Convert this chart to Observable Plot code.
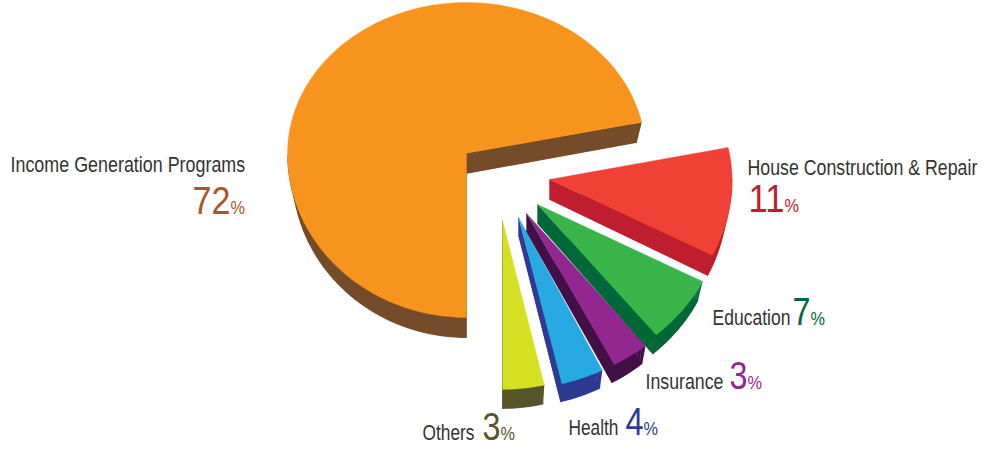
<!DOCTYPE html>
<html>
<head>
<meta charset="utf-8">
<style>html,body{margin:0;padding:0;background:#fff}svg{display:block}</style>
<script src="https://cdn.jsdelivr.net/npm/d3@7"></script>
<script src="https://cdn.jsdelivr.net/npm/@observablehq/plot@0.6"></script>
</head>
<body>
<script>
// Values, in pie order, clockwise from straight down
const names  = ["Income Generation Programs","House Construction & Repair","Education","Insurance","Health","Others"];
const shares = [72,11,7,3,4,3];
const faces  = ["#f7941e","#ef4136","#39b54a","#92278f","#27aae1","#d7df23"];
const walls  = ["#754c29","#be1e2d","#006838","#430f47","#2e3a92","#57552a"];
const inks   = ["#a4582a","#be1e2d","#006838","#92278f","#2e3a92","#57552a"];

// Drawing of the exploded tilted pie
const centre = [466,153], rx = 179, ryUp = 151, ryDown = 164;
const explodeX   = [0,83,71,60,52,36];
const explodeY   = [0,26,51,60,64,67];
const radius     = [1,1.02,1.035,1.044,1.042,1.03];
const depth      = [20,20,19,18,18,19];
const nudgeStart = [0,-1.2,-1.8,-3.6,-1.5,-2.3];
const nudgeEnd   = [-1,-1.8,-3.8,-2.8,-2.6,0];
const drawOrder  = [0,5,4,3,2,1];

// Label placement
const nameX  = [10,747,712,645,568,422], nameY = [171.5,174.5,324.5,388.5,434.5,439.5];
const valueX = [192,748,792,729,625,482], valueY = [213.5,211.5,324.5,388.5,434.5,439.5];
const pctX   = [230,784,810,747,643,500];
const nameW  = [235,230,78,78,50,52];
const valueW = [38,36,18,18,18,18];
const pctW   = 14.5;

// Sweep of each slice, laid end to end from straight down
let sweepFrom = 90;
const spans = shares.map((s,i)=>{
  const a0 = sweepFrom, a1 = a0 + s*3.6;
  sweepFrom = a1;
  return [a0+nudgeStart[i], a1+nudgeEnd[i]];
});

function outline(i){
  const ax = centre[0]+explodeX[i], ay = centre[1]+explodeY[i], r = radius[i];
  const [a0,a1] = spans[i];
  const pts = [[ax,ay]];
  const n = Math.max(8, Math.ceil((a1-a0)/2));
  for (let k=0;k<=n;k++){
    const t = (a0+(a1-a0)*k/n)*Math.PI/180, s = Math.sin(t);
    pts.push([ax+rx*r*Math.cos(t), ay+(s<0?ryUp:ryDown)*r*s]);
  }
  return pts;
}
const rows = [];
let id = 0;
const add = (pts,fill)=>{ id++; pts.forEach(p=>rows.push({x:p[0],y:p[1],z:id,fill})); };
for (const i of drawOrder){
  const top = outline(i);
  const ax = top[0][0];
  const low = top.map(p=>[ax+(p[0]-ax)*0.972, p[1]+depth[i]]);
  add(low,walls[i]);
  top.forEach((p,k)=>{
    const q = (k+1)%top.length;
    if (top[q][0] < p[0]) add([p,top[q],low[q],low[k]],walls[i]);
  });
  add(top,faces[i]);
}

const idx = d3.range(names.length);
const font = "'Liberation Sans',Arial,sans-serif";
const chart = Plot.plot({
  width:985, height:450, margin:0,
  x:{domain:[0,985],range:[0,985],axis:null},
  y:{domain:[0,450],range:[0,450],axis:null},
  style:{background:"#fff",overflow:"hidden"},
  marks:[
    Plot.line(rows,{x:"x",y:"y",z:"z",fill:"fill",stroke:"fill",strokeWidth:0.4}),
    Plot.text(idx,{x:i=>nameX[i],y:i=>nameY[i],text:i=>names[i],textAnchor:"start",lineAnchor:"bottom",fontSize:21.5,fontFamily:font,fill:"#333333",className:"nm"}),
    Plot.text(idx,{x:i=>valueX[i],y:i=>valueY[i],text:i=>String(shares[i]),textAnchor:"start",lineAnchor:"bottom",fontSize:39,fontFamily:font,fill:i=>inks[i],className:"vl"}),
    Plot.text(idx,{x:i=>pctX[i],y:i=>valueY[i],text:()=>"%",textAnchor:"start",lineAnchor:"bottom",fontSize:18,fontFamily:font,fill:i=>inks[i],className:"pc"})
  ]
});
document.body.appendChild(chart);
// Condense the glyphs horizontally to the reference's narrow type
const squeeze = (cls,w)=>d3.select(chart).selectAll(`g.${cls} text`).each(function(d,k){
  const target = typeof w==="number"?w:w[k];
  const sx = target/this.getComputedTextLength();
  const t = this.getAttribute("transform")||"";
  this.setAttribute("transform",`${t} scale(${sx},1)`);
});
squeeze("nm",nameW); squeeze("vl",valueW); squeeze("pc",pctW);
</script>
</body>
</html>
